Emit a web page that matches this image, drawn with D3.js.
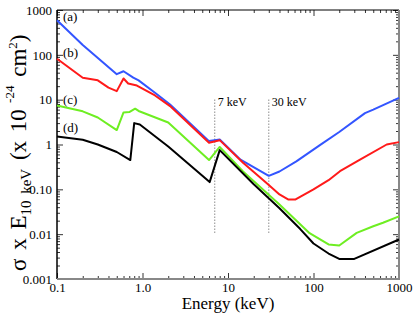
<!DOCTYPE html>
<html>
<head>
<meta charset="utf-8">
<script src="https://cdn.jsdelivr.net/npm/d3@7"></script>
<style>
  body { margin: 0; background: #fff; }
</style>
</head>
<body>
<div id="chart"></div>
<script>
// series (a)-(d): energy in keV, sigma x E in 1e-24 cm^2
const energyA = [0.1, 0.2, 0.5, 0.6, 0.78, 0.9, 1.4, 2.1, 6.0, 8.0, 14, 30, 40, 63, 120, 200, 400, 500, 1000];
const sigmaA  = [588, 165, 37, 43, 31, 27, 14.3, 7.8, 1.19, 1.29, 0.46, 0.2, 0.25, 0.42, 0.98, 1.9, 5.0, 6.0, 11];

const energyB = [0.1, 0.2, 0.3, 0.4, 0.5, 0.6, 0.68, 0.86, 1.4, 2.1, 6.0, 8.0, 15, 28, 40, 51, 61, 100, 150, 204, 350, 718, 1000];
const sigmaB  = [82, 30.8, 27, 18.5, 15.5, 29.7, 23, 20.7, 12.4, 7.2, 1.09, 1.25, 0.39, 0.14, 0.077, 0.059, 0.059, 0.1, 0.16, 0.254, 0.46, 1.0, 1.13];

const energyC = [0.1, 0.2, 0.3, 0.5, 0.6, 0.7, 0.82, 0.9, 2.0, 6.0, 8.0, 15, 40, 90, 150, 200, 320, 500, 650, 1000];
const sigmaC  = [7.4, 5.5, 4.0, 2.1, 5.2, 5.3, 6.3, 5.6, 3.1, 0.45, 0.88, 0.25, 0.046, 0.0105, 0.0059, 0.0056, 0.0107, 0.015, 0.018, 0.025];

const energyD = [0.1, 0.2, 0.3, 0.5, 0.72, 0.8, 0.93, 2.0, 6.1, 8.0, 20, 40, 70, 100, 150, 200, 300, 1000];
const sigmaD  = [1.5, 1.28, 1.0, 0.68, 0.45, 3.0, 2.8, 0.9, 0.145, 0.75, 0.13, 0.038, 0.013, 0.0062, 0.0037, 0.0028, 0.0028, 0.0076];

const seriesNames = ["(a)", "(b)", "(c)", "(d)"];
const seriesColors = ["#3355ff", "#ff1a1a", "#6eee22", "#000000"];

const xTicks = [0.1, 1, 10, 100, 1000];
const xTickLabels = ["0.1", "1.0", "10", "100", "1000"];
const yTicks = [0.001, 0.01, 0.1, 1, 10, 100, 1000];
const yTickLabels = ["0.001", "0.01", "0.10", "1", "10", "100", "1000"];

const edgeLines = [7, 30];
const edgeLabels = ["7 keV", "30 keV"];

const FONT = "'Liberation Serif', 'Times New Roman', 'DejaVu Serif', serif";

const W = 415, H = 315;
const margin = {top: 10, right: 16, bottom: 36, left: 57};
const width = W - margin.left - margin.right;
const height = H - margin.top - margin.bottom;

const svg = d3.select("#chart").append("svg")
  .attr("width", W).attr("height", H)
  .style("font-family", FONT);
const g = svg.append("g")
  .attr("transform", "translate(" + margin.left + "," + margin.top + ")");

const x = d3.scaleLog().domain([0.1, 1000]).range([0, width]);
const y = d3.scaleLog().domain([0.001, 1000]).range([height, 0]);

// minor ticks 2..9 per decade
const minor = (sc) => {
  const out = [];
  const [a, b] = sc.domain();
  for (let p = Math.log10(a); p < Math.log10(b); p++)
    for (let k = 2; k <= 9; k++) out.push(k * Math.pow(10, p));
  return out;
};

function drawAxis(axisFn, sc, majors, labels, tf, showLabels) {
  const ax = g.append("g").attr("transform", tf);
  ax.call(axisFn(sc).tickValues(minor(sc)).tickSize(-3).tickFormat(""));
  const maj = g.append("g").attr("transform", tf);
  maj.call(axisFn(sc).tickValues(majors).tickSize(-6).tickPadding(4)
    .tickFormat((d, i) => showLabels ? labels[i] : ""));
  [ax, maj].forEach(a => {
    a.attr("font-family", null);
    a.select(".domain").remove();
    a.selectAll("line").attr("stroke", "#000").attr("stroke-width", 0.8);
  });
  maj.selectAll("text").attr("font-size", 13).attr("fill", "#000")
    .style("font-family", FONT);
  return maj;
}

drawAxis(d3.axisBottom, x, xTicks, xTickLabels, "translate(0," + height + ")", true);
drawAxis(d3.axisTop, x, xTicks, xTickLabels, "translate(0,0)", false);
const yl = drawAxis(d3.axisLeft, y, yTicks, yTickLabels, "translate(0,0)", true);
drawAxis(d3.axisRight, y, yTicks, yTickLabels, "translate(" + width + ",0)", false);
yl.selectAll("text").attr("dx", "-1");

// frame
g.append("line").attr("x1", 0).attr("x2", width).attr("y1", 0).attr("y2", 0)
  .attr("stroke", "#000").attr("stroke-width", 1);
g.append("line").attr("x1", 0).attr("x2", 0).attr("y1", 0).attr("y2", height)
  .attr("stroke", "#000").attr("stroke-width", 1.5);
g.append("line").attr("x1", 0).attr("x2", width + 1).attr("y1", height).attr("y2", height)
  .attr("stroke", "#888").attr("stroke-width", 2);
g.append("line").attr("x1", width).attr("x2", width).attr("y1", 0).attr("y2", height)
  .attr("stroke", "#888").attr("stroke-width", 2);

// edge markers
edgeLines.forEach((e, i) => {
  g.append("line")
    .attr("x1", x(e)).attr("x2", x(e))
    .attr("y1", y(10)).attr("y2", y(0.01))
    .attr("stroke", "#555").attr("stroke-width", 1)
    .attr("stroke-dasharray", "1,2");
  g.append("text")
    .attr("x", x(e) + 3).attr("y", y(10) + 6)
    .attr("font-size", 12)
    .text(edgeLabels[i]);
});

// curves
const line = d3.line().x(d => x(d[0])).y(d => y(d[1]));
const series = [[energyA, sigmaA], [energyB, sigmaB], [energyC, sigmaC], [energyD, sigmaD]];
series.forEach((s, i) => {
  g.append("path")
    .datum(s[0].map((e, j) => [e, s[1][j]]))
    .attr("fill", "none")
    .attr("stroke", seriesColors[i])
    .attr("stroke-width", 2)
    .attr("stroke-linejoin", "round")
    .attr("d", line);
});

// series labels
const labelY = [17, 53, 100, 128];
seriesNames.forEach((n, i) => {
  g.append("text")
    .attr("x", 6).attr("y", labelY[i] - margin.top + 4)
    .attr("font-size", 13)
    .text(n);
});

// axis titles
svg.append("text")
  .attr("x", margin.left + width / 2).attr("y", 309)
  .attr("text-anchor", "middle")
  .attr("font-size", 17)
  .text("Energy (keV)");

const yt = svg.append("text")
  .attr("transform", "translate(26,271) rotate(-90)")
  .attr("font-size", 23)
  .attr("word-spacing", 3);
yt.append("tspan").text("σ x E");
yt.append("tspan").attr("font-size", 15).attr("dy", 5).text("10 keV");
yt.append("tspan").attr("dy", -5).text(" (x 10");
yt.append("tspan").attr("font-size", 13).attr("dy", -12).text(" -24");
yt.append("tspan").attr("dy", 12).text(" cm");
yt.append("tspan").attr("font-size", 13).attr("dy", -9).text("2");
yt.append("tspan").attr("dy", 9).text(")");
</script>
</body>
</html>
